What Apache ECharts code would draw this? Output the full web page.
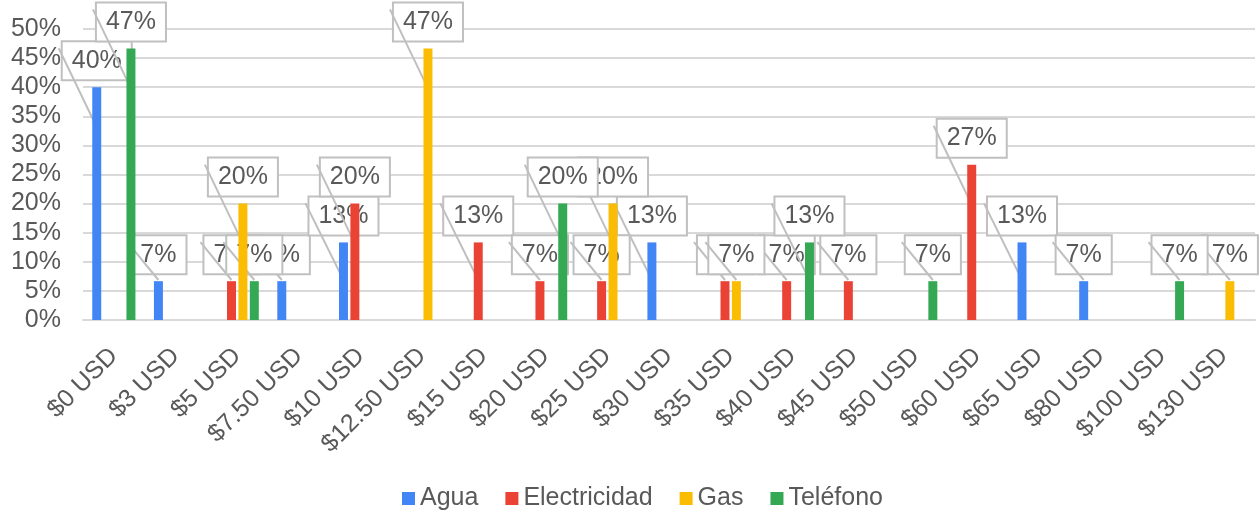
<!DOCTYPE html>
<html>
<head>
<meta charset="utf-8">
<script src="https://cdn.jsdelivr.net/npm/echarts@6/dist/echarts.min.js"></script>
<style>
  html, body { margin: 0; padding: 0; background: #fff; }
  #main { width: 1260px; height: 514px; }
</style>
</head>
<body>
<div id="main"></div>
<script>
// categorias (monto pagado) y porcentaje de cada servicio
var categorias = ['$0 USD', '$3 USD', '$5 USD', '$7.50 USD', '$10 USD', '$12.50 USD', '$15 USD', '$20 USD',
  '$25 USD', '$30 USD', '$35 USD', '$40 USD', '$45 USD', '$50 USD', '$60 USD', '$65 USD', '$80 USD',
  '$100 USD', '$130 USD'];

var agua         = [40, 6.67, null, 6.67, 13.33, null, null, null, null, 13.33, null, null, null, null, null, 13.33, 6.67, null, null];
var electricidad = [null, null, 6.67, null, 20, null, 13.33, 6.67, 6.67, null, 6.67, 6.67, 6.67, null, 26.67, null, null, null, null];
var gas          = [null, null, 20, null, null, 46.67, null, null, 20, null, 6.67, null, null, null, null, null, null, null, 6.67];
var telefono     = [46.67, null, 6.67, null, null, null, null, 20, null, null, null, 13.33, null, 6.67, null, null, null, 6.67, null];

var nombres = ['Agua', 'Electricidad', 'Gas', 'Teléfono'];
var colores = ['#4285F4', '#EA4335', '#FBBC04', '#34A853'];
var ticksY = [0, 50, 5];   // min, max, intervalo (%)

var gris = '#595959';
var fuente = '"Liberation Sans", Arial, sans-serif';
var tam = 25;
var catGap = 0.30, barGap = 0.27;

var chart = echarts.init(document.getElementById('main'));

// etiquetas con cuadro y linea guia (estilo Excel), en orden de serie
var series = [agua, electricidad, gas, telefono];
var etiquetas = [];
series.forEach(function (arr, s) {
  arr.forEach(function (v, i) {
    if (v != null) etiquetas.push([i, v, s]);
  });
});

var ctx = document.createElement('canvas').getContext('2d');
ctx.font = tam + 'px ' + fuente;

function renderEtiqueta(params, api) {
  var i = api.value(0), v = api.value(1), s = api.value(2);
  var p = api.coord([i, v]);
  var y0 = api.coord([i, 0])[1];
  var band = api.size([1, 0])[0];
  var bw = band * (1 - catGap) / (4 + 3 * barGap);
  var x = p[0] + (s - 1.5) * bw * (1 + barGap);
  var top = p[1];
  var txt = Math.round(v) + '%';
  var boxW = ctx.measureText(txt).width + 18;
  var boxH = 38;
  var boxBottom = top - 8;
  var x1 = x - boxW / 2 - 4, y1 = boxBottom - boxH + 7;
  var y2 = Math.min(top + 40, y0 - 40);
  return {
    type: 'group',
    children: [{
      type: 'text',
      style: {
        text: txt,
        x: x,
        y: boxBottom,
        align: 'center',
        verticalAlign: 'bottom',
        font: tam + 'px ' + fuente,
        fill: gris,
        backgroundColor: '#fff',
        borderColor: '#c0c0c0',
        borderWidth: 2,
        padding: [6, 9, 6, 9],
        lineHeight: 25
      }
    }, {
      type: 'line',
      shape: { x1: x1, y1: y1, x2: x, y2: y2 },
      style: { stroke: '#bfbfbf', lineWidth: 2 }
    }]
  };
}

var seriesList = series.map(function (arr, s) {
  return {
    name: nombres[s],
    type: 'bar',
    data: arr,
    barCategoryGap: (catGap * 100) + '%',
    barGap: (barGap * 100) + '%',
    itemStyle: { color: colores[s] }
  };
});
seriesList.push({
  type: 'custom',
  coordinateSystem: 'cartesian2d',
  data: etiquetas,
  encode: { x: 0, y: 1 },
  clip: false,
  silent: true,
  renderItem: renderEtiqueta
});

var option = {
  animation: false,
  color: colores,
  grid: { left: 83, right: 5, top: 29, bottom: 194, containLabel: false },
  legend: {
    data: nombres,
    left: 397,
    top: 481,
    icon: 'rect',
    itemWidth: 13,
    itemHeight: 13,
    itemGap: 27,
    textStyle: { fontSize: tam, color: gris, fontFamily: fuente }
  },
  xAxis: {
    type: 'category',
    data: categorias,
    axisTick: { show: false },
    axisLine: { lineStyle: { color: '#d9d9d9', width: 2 } },
    axisLabel: {
      interval: 0,
      rotate: 45,
      margin: 32,
      fontSize: tam,
      color: gris,
      fontFamily: fuente
    }
  },
  yAxis: {
    type: 'value',
    min: ticksY[0],
    max: ticksY[1],
    interval: ticksY[2],
    axisLine: { show: false },
    axisTick: { show: false },
    splitLine: { lineStyle: { color: '#d9d9d9', width: 2 } },
    axisLabel: {
      formatter: '{value}%',
      margin: 22,
      fontSize: tam,
      color: gris,
      fontFamily: fuente
    }
  },
  series: seriesList
};

chart.setOption(option);
</script>
</body>
</html>
